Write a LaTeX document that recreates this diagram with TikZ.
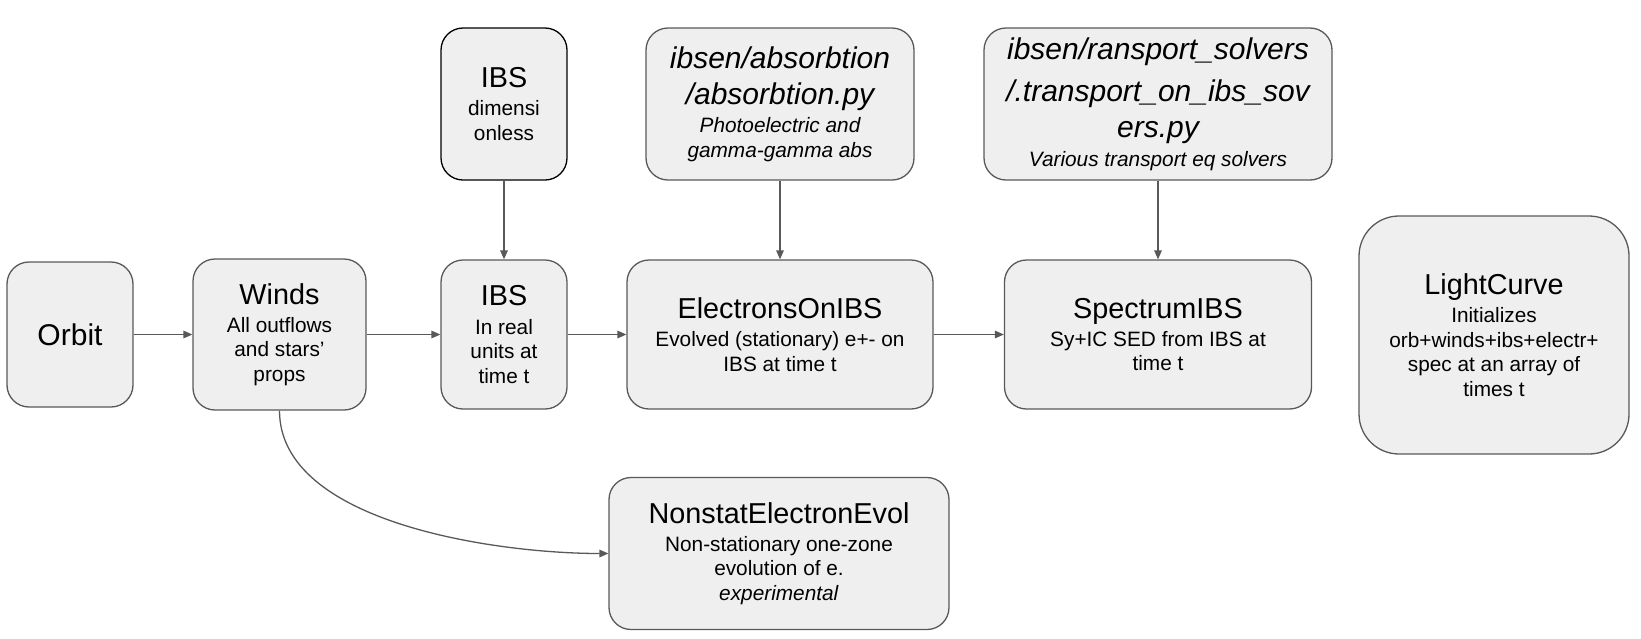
\documentclass[tikz,border=0pt]{standalone}
\usepackage{fontspec}
\setmainfont{Liberation Sans}
\usetikzlibrary{arrows.meta}
\definecolor{boxfill}{HTML}{EFEFEF}
\definecolor{boxline}{HTML}{595959}
\tikzstyle{box}=[draw=boxline, fill=boxfill, line width=0.65pt, rounded corners=11pt, align=center, inner sep=0pt, font=\fontsize{10.4}{12.2}\selectfont]
\tikzstyle{pybox}=[box, font=\fontsize{10.4}{12.2}\selectfont\itshape]
\tikzstyle{flow}=[draw=boxline, line width=0.65pt, -{Triangle[length=4.5pt, width=3.8pt]}]
\newcommand{\ttl}[1]{{\fontsize{14.4}{18}\selectfont #1}}
\newcommand{\pyttl}[1]{{\fontsize{15}{18}\selectfont #1}}

\begin{document}
\begin{tikzpicture}[x=0.5pt, y=-0.5pt]
\useasboundingbox (0,0) rectangle (1641,638);
% Boxes
    \node[box, minimum width=63pt, minimum height=72.5pt] (orbit) at (70,334.5) {{\fontsize{15}{18}\selectfont Orbit}};
    \node[box, minimum width=86.5pt, minimum height=75.5pt] (winds) at (279.5,334.5) {\ttl{Winds}\\[2pt] All outflows\\ and stars'\\ props};
    \node[box, draw=black, minimum width=63pt, minimum height=76pt] (ibsdim) at (504,104) {\ttl{IBS}\\[2pt] dimensi\\ onless};
    \node[box, minimum width=63pt, minimum height=74.5pt] (ibs) at (504,334.5) {\ttl{IBS}\\[2pt] In real\\ units at\\ time t};
    \node[box, minimum width=153pt, minimum height=74.5pt] (electrons) at (780,334.5) {\ttl{ElectronsOnIBS}\\[2pt] Evolved (stationary) e+- on\\ IBS at time t};
    \node[pybox, minimum width=134pt, minimum height=76pt] (absorb) at (780,104) {\pyttl{ibsen/absorbtion}\\[6pt] \pyttl{/absorbtion.py}\\[2pt] Photoelectric and\\ gamma-gamma abs};
    \node[pybox, minimum width=174pt, minimum height=76pt] (transport) at (1158,104) {\pyttl{ibsen/ransport\_solvers}\\[6pt] \pyttl{/.transport\_on\_ibs\_sov}\\[6pt] \pyttl{ers.py}\\[2pt] Various transport eq solvers};
    \node[box, minimum width=153.5pt, minimum height=74.5pt] (spectrum) at (1158,334.5) {\ttl{SpectrumIBS}\\[2pt] Sy+IC SED from IBS at\\ time t};
    \node[box, rounded corners=20pt, minimum width=135pt, minimum height=119pt] (lightcurve) at (1494,335) {\ttl{LightCurve}\\[2pt] Initializes\\ orb+winds+ibs+electr+\\ spec at an array of\\ times t};
    \node[box, minimum width=170pt, minimum height=76pt] (nonstat) at (779,553.5) {\ttl{NonstatElectronEvol}\\[2pt] Non-stationary one-zone\\ evolution of e.\\ \textit{experimental}};

% Arrows
    \draw[flow] (orbit) -- (winds);
    \draw[flow] (winds) -- (ibs);
    \draw[flow] (ibs) -- (electrons);
    \draw[flow] (electrons) -- (spectrum);
    \draw[flow] (ibsdim) -- (ibs);
    \draw[flow] (absorb) -- (electrons);
    \draw[flow] (transport) -- (spectrum);
    \draw[flow] (winds.south) to[out=-90, in=180, looseness=0.8] (nonstat.west);

\end{tikzpicture}
\end{document}
